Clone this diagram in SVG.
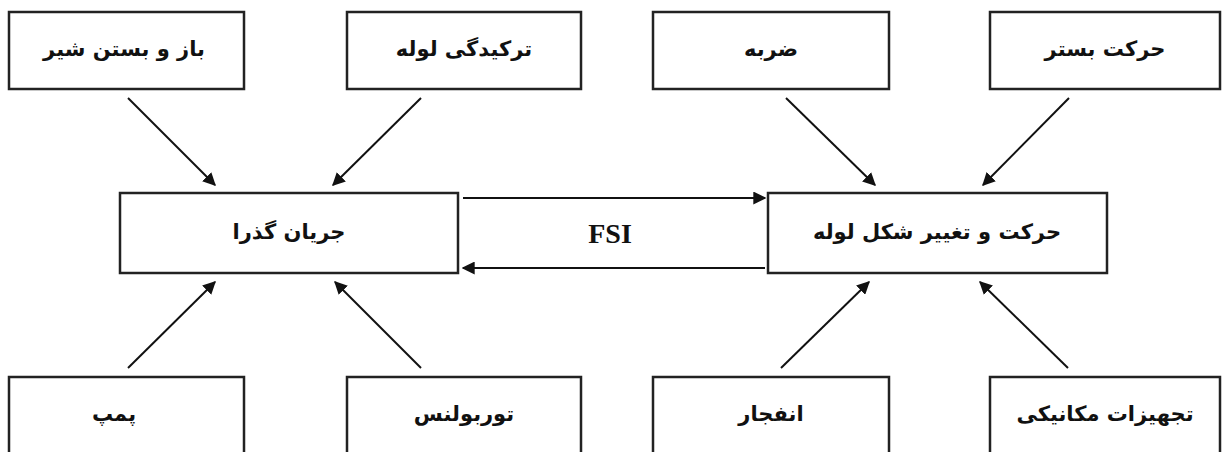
<svg xmlns="http://www.w3.org/2000/svg" width="1223" height="452" viewBox="0 0 1223 452">
<style>
.box{fill:#fff;stroke:#222;stroke-width:2.5}
.t{font-family:"DejaVu Sans",sans-serif;font-weight:bold;font-size:21px;fill:#111;text-anchor:middle;dominant-baseline:central}
.c{stroke:#111;stroke-width:2;fill:none;marker-end:url(#ah)}
.fsi{font-family:"Liberation Serif",serif;font-weight:bold;font-size:28px;fill:#111;text-anchor:middle}
</style>
<defs>
<marker id="ah" viewBox="0 0 10 10" refX="9" refY="5" markerWidth="6.5" markerHeight="6.5" orient="auto" markerUnits="strokeWidth">
<path d="M0,0 L10,5 L0,10 z" fill="#111"/>
</marker>
</defs>
<rect width="1223" height="452" fill="#fff"/>
<g id="n1"><rect class="box" x="9" y="12" width="235" height="77"/><text class="t" x="124" y="49" direction="rtl">باز و بستن شیر</text></g>
<g id="n2"><rect class="box" x="347" y="12" width="234" height="77"/><text class="t" x="464" y="49" direction="rtl">ترکیدگی لوله</text></g>
<g id="n3"><rect class="box" x="653" y="12" width="236" height="77"/><text class="t" x="771" y="49" direction="rtl">ضربه</text></g>
<g id="n4"><rect class="box" x="990" y="12" width="230" height="77"/><text class="t" x="1105" y="49" direction="rtl">حرکت بستر</text></g>
<g id="n5"><rect class="box" x="120" y="193" width="338" height="80"/><text class="t" x="289" y="232" direction="rtl">جریان گذرا</text></g>
<g id="n6"><rect class="box" x="768" y="193" width="339" height="80"/><text class="t" x="937" y="232" direction="rtl">حرکت و تغییر شکل لوله</text></g>
<g id="n7"><rect class="box" x="9" y="377" width="235" height="80"/><text class="t" x="114" y="414" direction="rtl">پمپ</text></g>
<g id="n8"><rect class="box" x="347" y="377" width="234" height="80"/><text class="t" x="464" y="414" direction="rtl">توربولنس</text></g>
<g id="n9"><rect class="box" x="653" y="377" width="236" height="80"/><text class="t" x="771" y="414" direction="rtl">انفجار</text></g>
<g id="n10"><rect class="box" x="990" y="377" width="230" height="80"/><text class="t" x="1105" y="414" direction="rtl">تجهیزات مکانیکی</text></g>
<g id="connectors">
<line class="c" x1="128" y1="98" x2="215" y2="185"/>
<line class="c" x1="421" y1="98" x2="333" y2="185"/>
<line class="c" x1="786" y1="98" x2="875" y2="185"/>
<line class="c" x1="1069" y1="98" x2="983" y2="185"/>
<line class="c" x1="128" y1="368" x2="215" y2="282"/>
<line class="c" x1="421" y1="368" x2="335" y2="282"/>
<line class="c" x1="781" y1="368" x2="869" y2="282"/>
<line class="c" x1="1068" y1="368" x2="980" y2="282"/>
<line class="c" x1="463" y1="198" x2="765" y2="198"/>
<line class="c" x1="765" y1="268" x2="463" y2="268"/>
<text class="fsi" x="610" y="243">FSI</text>
</g>
</svg>
